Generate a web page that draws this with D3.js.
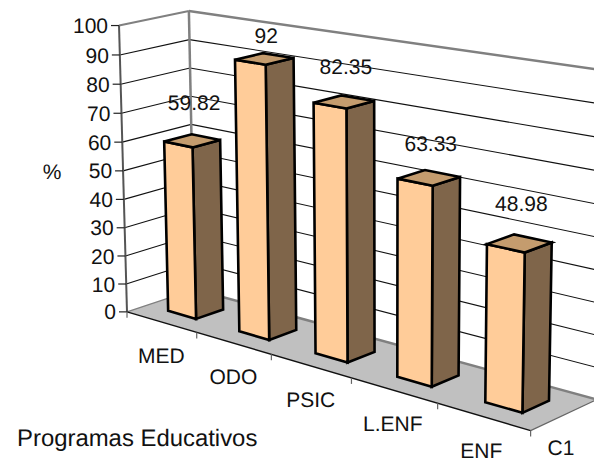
<!DOCTYPE html>
<html><head><meta charset="utf-8">
<script src="https://cdn.jsdelivr.net/npm/d3@7"></script>
<style>html,body{margin:0;padding:0;background:#fff}svg{display:block}text{font-family:"Liberation Sans",Arial,sans-serif;font-size:21px;fill:#111;text-rendering:geometricPrecision}</style>
</head><body><svg id="c" width="594" height="459"></svg>
<script>
const categories = ["MED","ODO","PSIC","L.ENF","ENF"];
const values = [59.82,92,82.35,63.33,48.98];
const series = "C1";
const yTicks = d3.range(0,101,10);
const labelLift = [38,23,35,34,40];
const catShift = [0,0,0,-1,-2];

// camera fitted to the reference frame: [u,v,d] -> [sx,sy]
const anchors = [
 [0,0,0,128,312],[0,1,0,118,24],[0,0,1,193,289],[0,1,1,189,12],
 [1,0,0,530,431],[1,0,1,599,398.5],[1,1,1,603,70],[0,.5,0,123,170],
 [.2,0,0,197,332.5],[.4,0,0,271,354],[.6,0,0,351,378],[.8,0,0,437,403.5],
 [.14,.5982,.3,193,149],[.14,0,.3,197,319],
 [.34,.92,.3,267,65],[.34,0,.3,269,340],
 [.94,.4898,.3,526,253],[.94,0,.3,521,413]
];
function fit(a){
  const n=11,A=d3.range(n).map(()=>new Array(n+1).fill(0));
  const add=(r,b)=>{for(let i=0;i<n;i++){for(let j=0;j<n;j++)A[i][j]+=r[i]*r[j];A[i][n]+=r[i]*b;}};
  a.forEach(([X,Y,Z,sx,sy])=>{const x=sx/500,y=sy/500;
    add([X,Y,Z,1,0,0,0,0,-x*X,-x*Y,-x*Z],x);
    add([0,0,0,0,X,Y,Z,1,-y*X,-y*Y,-y*Z],y);});
  for(let c=0;c<n;c++){let p=c;for(let r=c+1;r<n;r++)if(Math.abs(A[r][c])>Math.abs(A[p][c]))p=r;
    [A[c],A[p]]=[A[p],A[c]];
    for(let r=0;r<n;r++)if(r!==c){const f=A[r][c]/A[c][c];for(let k=c;k<=n;k++)A[r][k]-=f*A[c][k];}}
  return A.map((r,i)=>r[n]/r[i]);
}
const P=fit(anchors);
const project=(u,v,d)=>{const w=P[8]*u+P[9]*v+P[10]*d+1;
  return [500*(P[0]*u+P[1]*v+P[2]*d+P[3])/w,500*(P[4]*u+P[5]*v+P[6]*d+P[7])/w];};

const xBand=d3.scaleBand().domain(categories).range([0,1]).paddingInner(.6).paddingOuter(.3);
const xEdge=d3.scaleLinear().domain([0,categories.length]).range([0,1]);
const y=d3.scaleLinear().domain([0,100]).range([0,1]);
const dBand=d3.scaleBand().domain([series]).range([0,1]).paddingInner(.6).paddingOuter(.3);

const svg=d3.select("#c");
const line=d3.line();
const poly=(pts,fill,stroke,sw)=>svg.append("path").attr("d",line(pts)+"Z").attr("fill",fill)
  .attr("stroke",stroke).attr("stroke-width",sw).attr("stroke-linejoin","miter");
const seg=(a,b,stroke,sw)=>svg.append("path").attr("d",line([a,b])).attr("fill","none").attr("stroke",stroke).attr("stroke-width",sw);

// floor
poly([project(0,0,0),project(1,0,0),project(1,0,1),project(0,0,1)],"#c0c0c0","none",0);
// grid
yTicks.slice(1,-1).forEach(t=>{
  const v=y(t);
  seg(project(0,v,0),project(0,v,1),"#111",1.1);
  seg(project(0,v,1),project(1,v,1),"#111",1.1);
});
// wall frame
const gy=y(100);
seg(project(0,0,1),project(1,0,1),"#808080",2.5);
seg(project(0,0,1),project(0,gy,1),"#808080",2.5);
seg(project(0,gy,0),project(0,gy,1),"#808080",2);
seg(project(0,gy,1),project(1,gy,1),"#808080",2.5);
seg(project(0,0,0),project(0,gy,0),"#555",2);
seg(project(0,0,0),project(0,0,1),"#808080",1.2);
seg(project(1,0,1),project(1,0,0),"#666",1.2);
seg(project(0,0,0),project(1,0,0),"#111",1.4);

// value axis ticks + labels
yTicks.forEach(t=>{
  const p=project(0,y(t),0);
  seg(p,[p[0]-8,p[1]],"#222",1.2);
  svg.append("text").attr("x",p[0]-11).attr("y",p[1]).attr("dy","0.36em").attr("text-anchor","end").text(t);
});
// category ticks
d3.range(categories.length+1).forEach(i=>{
  const p=project(xEdge(i),0,0);
  seg(p,[p[0],p[1]+6],"#666",1.2);
});
// bars
const d0=dBand(series),d1=d0+dBand.bandwidth();
categories.forEach((c,i)=>{
  const u0=xBand(c),u1=u0+xBand.bandwidth(),v=y(values[i]);
  poly([project(u1,0,d0),project(u1,0,d1),project(u1,v,d1),project(u1,v,d0)],"#7f654a","#000",2.6);
  poly([project(u0,0,d0),project(u1,0,d0),project(u1,v,d0),project(u0,v,d0)],"#ffcc99","#000",2.6);
  poly([project(u0,v,d0),project(u1,v,d0),project(u1,v,d1),project(u0,v,d1)],"#c49c6e","#000",2.6);
  const t=project((u0+u1)/2,v,(d0+d1)/2);
  svg.append("text").attr("x",t[0]+2).attr("y",t[1]-labelLift[i]).attr("dy","0.36em").attr("text-anchor","middle").text(values[i]);
  const e=project(xEdge(i+.5),0,0);
  svg.append("text").attr("x",e[0]+catShift[i]).attr("y",e[1]+33.5).attr("dy","0.36em").attr("text-anchor","middle").text(c);
});
svg.append("text").attr("x",561).attr("y",447).attr("dy","0.36em").attr("text-anchor","middle").text(series);
svg.append("text").attr("x",52).attr("y",171).attr("dy","0.36em").attr("text-anchor","middle").text("%");
svg.append("text").attr("x",17).attr("y",437).attr("dy","0.36em").style("font-size","23.9px").text("Programas Educativos");
</script></body></html>
